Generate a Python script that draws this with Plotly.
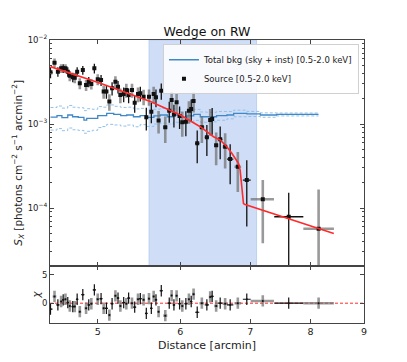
import numpy as np
import plotly.graph_objects as go
from plotly.subplots import make_subplots

# --- data ---
dist = [4.505, 4.545, 4.579, 4.612, 4.633, 4.656, 4.680, 4.701, 4.732, 4.753,
        4.778, 4.806, 4.838, 4.873, 4.902, 4.930, 4.963, 5.000, 5.037, 5.066,
        5.097, 5.130, 5.161, 5.199, 5.229, 5.256, 5.295, 5.326, 5.353, 5.393,
        5.425, 5.465, 5.493, 5.533, 5.566, 5.599, 5.628, 5.657, 5.686, 5.719,
        5.753, 5.804, 5.855, 5.886, 5.916, 5.951, 5.990, 6.026, 6.074, 6.115,
        6.146, 6.178, 6.228, 6.292, 6.362, 6.409, 6.437, 6.494, 6.552, 6.624,
        6.698, 6.812, 6.948, 7.198, 7.622, 8.142]
sx = [4.12e-3, 5.37e-3, 4.20e-3, 4.60e-3, 4.60e-3, 4.60e-3, 4.20e-3, 3.76e-3, 3.60e-3, 3.56e-3,
      4.20e-3, 3.05e-3, 4.39e-3, 2.91e-3, 3.19e-3, 2.99e-3, 4.60e-3, 3.40e-3, 3.34e-3, 2.43e-3,
      2.43e-3, 1.85e-3, 2.66e-3, 3.19e-3, 2.78e-3, 2.21e-3, 2.27e-3, 2.54e-3, 2.21e-3, 2.54e-3,
      1.79e-3, 2.27e-3, 2.32e-3, 2.11e-3, 1.20e-3, 2.11e-3, 1.40e-3, 2.27e-3, 2.08e-3, 1.10e-3,
      2.49e-3, 9.13e-4, 1.44e-3, 1.93e-3, 1.30e-3, 1.81e-3, 1.245e-3, 1.05e-3, 1.066e-3, 1.44e-3,
      1.51e-3, 1.88e-3, 5.89e-4, 9.13e-4, 6.94e-4, 1.115e-3, 1.147e-3, 5.57e-4, 6.57e-4, 5.37e-4,
      3.83e-4, 3.10e-4, 2.15e-4, 1.27e-4, 7.88e-5, 5.67e-5]
sx_rel_err = [0.15, 0.12, 0.13, 0.12, 0.12, 0.12, 0.13, 0.14, 0.13, 0.14,
              0.13, 0.15, 0.12, 0.15, 0.14, 0.14, 0.13, 0.15, 0.15, 0.18,
              0.18, 0.22, 0.18, 0.16, 0.17, 0.20, 0.20, 0.19, 0.20, 0.19,
              0.24, 0.20, 0.20, 0.21, 0.30, 0.22, 0.27, 0.22, 0.24, 0.30,
              0.22, 0.35, 0.28, 0.25, 0.30, 0.27, 0.30, 0.33, 0.33, 0.30,
              0.30, 0.27, 0.42, 0.35, 0.40, 0.35, 0.35, 0.42, 0.42, 0.45,
              0.50, 0.50, 0.72, 0.70, 0.93, 1.94]
chi = [-1.06, 1.18, -0.3, 0.3, 0.6, 0.7, 0.1, -0.5, -0.6, -0.6,
       0.7, -1.5, 1.5, -0.9, -0.3, -0.1, 2.35, 0.7, 0.8, -0.9,
       -0.9, -2.1, -0.1, 1.3, 0.9, -0.5, 0.1, -0.1, 0.9, 0.0,
       -0.7, 0.7, 0.8, 0.6, -1.8, 0.8, -0.9, 1.2, 0.6, -1.5,
       2.2, -2.2, 0.0, 1.35, -0.3, 1.3, -0.1, -0.5, -0.1, 0.7,
       0.3, 1.6, -1.6, 0.0, -0.3, 1.1, 1.2, -0.5, 0.0, -0.1,
       -0.3, 0.0, 0.7, 0.4, 0.0, 0.0]
# bin half-widths of the outer (wide) bins
outer_xerr_minus = [0.05, 0.06, 0.19, 0.24, 0.27]
outer_xerr_plus = [0.05, 0.06, 0.18, 0.25, 0.28]

model_x = [4.505, 5.029, 5.616, 6.000, 6.270, 6.456, 6.552, 6.648, 6.722, 6.786,
           6.822, 6.847, 6.867, 6.897, 6.912, 8.42]
model_y = [4.82e-3, 3.05e-3, 1.85e-3, 1.28e-3, 9.29e-4, 7.06e-4, 6.45e-4, 5.37e-4, 4.48e-4, 3.80e-4,
           3.40e-4, 2.83e-4, 1.97e-4, 1.14e-4, 1.11e-4, 4.99e-5]

bkg_x = [4.505, 4.57, 4.62, 4.68, 4.73, 4.79, 4.85, 4.88, 4.94, 5.00,
         5.05, 5.10, 5.18, 5.26, 5.33, 5.41, 5.49, 5.57, 5.66, 5.74,
         5.83, 5.91, 6.00, 6.09, 6.18, 6.27, 6.36, 6.50, 6.65, 6.75,
         6.95, 7.16, 7.42, 7.70, 8.14]
bkg_y = [1.21e-3, 1.26e-3, 1.19e-3, 1.28e-3, 1.22e-3, 1.20e-3, 1.11e-3, 1.17e-3, 1.17e-3, 1.26e-3,
         1.26e-3, 1.34e-3, 1.30e-3, 1.26e-3, 1.28e-3, 1.22e-3, 1.26e-3, 1.20e-3, 1.25e-3, 1.28e-3,
         1.22e-3, 1.28e-3, 1.20e-3, 1.25e-3, 1.30e-3, 1.22e-3, 1.22e-3, 1.26e-3, 1.28e-3, 1.34e-3,
         1.32e-3, 1.28e-3, 1.30e-3, 1.30e-3, 1.30e-3]
bkg_rel_err = [0.30, 0.30, 0.30, 0.30, 0.30, 0.30, 0.30, 0.30, 0.28, 0.28,
               0.26, 0.26, 0.25, 0.25, 0.24, 0.24, 0.22, 0.22, 0.20, 0.20,
               0.18, 0.18, 0.16, 0.16, 0.15, 0.14, 0.13, 0.12, 0.10, 0.09,
               0.07, 0.06, 0.04, 0.04, 0.04]

shade_range = [5.6, 7.1]
y_range = [2.02e-5, 1e-2]

# --- derived arrays ---
dist_a = np.array(dist)
sx_a = np.array(sx)
err = np.array(sx_rel_err) * sx_a
err_minus = np.minimum(err, sx_a * 0.999)
half = np.gradient(dist_a) / 2
xm = half.copy()
xp = half.copy()
xm[-5:] = outer_xerr_minus
xp[-5:] = outer_xerr_plus
bkg_a = np.array(bkg_y)
bkg_e = np.array(bkg_rel_err)

idx_black = np.arange(0, len(dist), 2)
idx_gray = np.arange(1, len(dist), 2)

BLACK = '#111111'
GRAY = 'rgba(110,110,110,0.7)'

fig = make_subplots(rows=2, cols=1, shared_xaxes=True, vertical_spacing=0,
                    row_heights=[0.8, 0.2])

# shaded region (main panel only)
x0, x1 = shade_range
y0, y1 = y_range
fig.add_trace(go.Scatter(x=[x0, x1, x1, x0, x0], y=[y0, y0, y1, y1, y0], mode='lines',
                         fill='toself', fillcolor='#cfddf6',
                         line=dict(color='#bcd0f3', width=1),
                         showlegend=False, hoverinfo='skip'), row=1, col=1)

# background
for sgn in (1, -1):
    fig.add_trace(go.Scatter(x=bkg_x, y=bkg_a * (1 + sgn * bkg_e), mode='lines',
                             line=dict(color='#92c1ea', width=1, dash='3px,2px', shape='hv'),
                             showlegend=False, hoverinfo='skip'), row=1, col=1)
fig.add_trace(go.Scatter(x=bkg_x, y=bkg_y, mode='lines',
                         line=dict(color='#3f88c8', width=1.3, shape='hv'),
                         name='Total bkg (sky + inst) [0.5-2.0 keV]'), row=1, col=1)


def pts(idx, color, thick, legend):
    return go.Scatter(
        x=dist_a[idx], y=sx_a[idx], mode='markers',
        marker=dict(symbol='square', size=4, color=BLACK),
        error_y=dict(type='data', symmetric=False, array=err[idx], arrayminus=err_minus[idx],
                     color=color, thickness=thick, width=0),
        error_x=dict(type='data', symmetric=False, array=xp[idx], arrayminus=xm[idx],
                     color=color, thickness=thick, width=0),
        name='Source [0.5-2.0 keV]', showlegend=legend)


fig.add_trace(pts(idx_gray, GRAY, 2.6, False), row=1, col=1)
fig.add_trace(pts(idx_black, BLACK, 1.3, True), row=1, col=1)

fig.add_trace(go.Scatter(x=model_x, y=model_y, mode='lines',
                         line=dict(color='#ff2b2b', width=1.6), showlegend=False),
              row=1, col=1)

# residuals
fig.add_trace(go.Scatter(x=[4.5, 9], y=[0, 0], mode='lines',
                         line=dict(color='#ff2b2b', width=1, dash='3px,2px'),
                         showlegend=False), row=2, col=1)
chi_a = np.array(chi)
for idx, color, thick in ((idx_gray, GRAY, 2.6), (idx_black, BLACK, 1.2)):
    fig.add_trace(go.Scatter(
        x=dist_a[idx], y=chi_a[idx], mode='markers',
        marker=dict(size=2, color=BLACK),
        error_y=dict(type='constant', value=1, color=color, thickness=thick, width=0),
        error_x=dict(type='data', symmetric=False, array=xp[idx], arrayminus=xm[idx],
                     color=color, thickness=thick, width=0),
        showlegend=False), row=2, col=1)

axis_style = dict(showline=True, linecolor='#444444', linewidth=1, mirror='allticks',
                  ticks='inside', ticklen=4, tickcolor='#444444', showgrid=False,
                  zeroline=False, tickfont=dict(size=9.5, color='#222222'), layer='above traces')

xr = [np.log10(4.5), np.log10(9)]
fig.update_xaxes(type='log', range=xr, tickvals=[5, 6, 7, 8, 9], **axis_style)
fig.update_xaxes(showticklabels=False, row=1, col=1)
fig.update_xaxes(ticktext=['5', '6', '7', '8', '9'], tickmode='array',
                 title=dict(text='Distance [arcmin]', font=dict(size=11, color='#222222'),
                            standoff=4), row=2, col=1)

minor_vals = [k * 10.0 ** e for e in (-5, -4, -3) for k in range(2, 10)]
fig.update_yaxes(type='log', range=[np.log10(y_range[0]), np.log10(y_range[1])],
                 tickvals=[1e-4, 1e-3, 1e-2],
                 ticktext=['10<sup>\u22124</sup>', '10<sup>\u22123</sup>', '10<sup>\u22122</sup>'],
                 minor=dict(tickmode='array', tickvals=minor_vals, ticks='inside',
                            ticklen=2, tickcolor='#444444'),
                 row=1, col=1, **axis_style)
fig.update_yaxes(tickfont=dict(size=8.5), row=1, col=1)
fig.update_yaxes(range=[-3.5, 6.5], tickvals=[0, 5], row=2, col=1, **axis_style)
fig.update_yaxes(tickfont=dict(size=8.5), row=2, col=1)

fig.add_annotation(text='<i>S</i><sub><i>X</i></sub> [photons cm<sup>\u22122</sup> s<sup>\u22121</sup> arcmin<sup>\u22122</sup>]',
                   xref='paper', yref='paper', x=-0.1, y=0.565, textangle=-90,
                   showarrow=False, font=dict(size=10.5, color='#222222'),
                   xanchor='center', yanchor='middle')
fig.add_annotation(text='<i>\u03c7</i>', xref='paper', yref='paper', x=-0.042, y=0.1,
                   textangle=-90, showarrow=False, font=dict(size=10, color='#222222'),
                   xanchor='center', yanchor='middle')

# page body adds an 8px offset, so margins are shifted accordingly
fig.update_layout(
    width=407, height=362,
    margin=dict(l=42, r=51, t=32, b=47),
    paper_bgcolor='white', plot_bgcolor='white',
    font=dict(family='DejaVu Sans', color='#222222'),
    title=dict(text='Wedge on RW', x=0.5, xref='paper', y=1 - 24 / 362, yref='container',
               xanchor='center', yanchor='middle', font=dict(size=12.5, color='#111111')),
    legend=dict(x=0.984, y=0.985, xanchor='right', yanchor='top',
                bgcolor='rgba(255,255,255,0.85)', bordercolor='#d0d0d0', borderwidth=1,
                font=dict(size=8.5, color='#222222'), itemwidth=30, tracegroupgap=0),
    showlegend=True,
)

fig.write_html("out.html")
